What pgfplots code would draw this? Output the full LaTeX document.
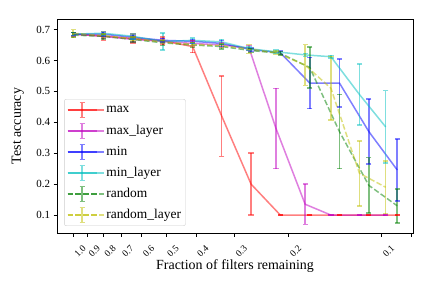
\documentclass[border=0pt]{standalone}
\usepackage{pgfplots}
\pgfplotsset{compat=1.18}
\usepackage{fontspec}
\setmainfont{Liberation Serif}

\definecolor{colR}{rgb}{1,0,0}
\definecolor{colM}{rgb}{0.75,0,0.75}
\definecolor{colB}{rgb}{0,0,1}
\definecolor{colC}{rgb}{0,0.75,0.75}
\definecolor{colG}{rgb}{0,0.5,0}
\definecolor{colY}{rgb}{0.75,0.75,0}

\pgfplotsset{
  ln/.style={color=#1, line width=1.5bp, opacity=0.5, no markers, forget plot},
  er/.style={color=#1, line width=1.5bp, opacity=0.5, solid, forget plot,
    unbounded coords=jump, mark=-, mark size=2.6bp, mark options={solid, line width=1.5bp}},
  lg/.style={color=#1, opacity=0.5, line width=1.5bp},
}

\begin{document}
\begin{tikzpicture}
\begin{axis}[
  at={(57bp,55bp)}, anchor=south west,
  scale only axis, width=356bp, height=214bp,
  xmode=log, x dir=reverse,
  xmin=0.0791, xmax=1.129,
  ymin=0.042, ymax=0.734,
  xtick={1.0,0.9,0.8,0.7,0.6,0.5,0.4,0.3,0.2,0.1},
  xticklabels={1.0,0.9,0.8,0.7,0.6,0.5,0.4,0.3,0.2,0.1},
  extra x ticks={0.08}, extra x tick labels={},
  xminorticks=false, yminorticks=false,
  ytick={0.1,0.2,0.3,0.4,0.5,0.6,0.7},
  yticklabels={0.1,0.2,0.3,0.4,0.5,0.6,0.7},
  tick align=outside, major tick length=3.5bp,
  xtick pos=bottom, ytick pos=left,
  tick style={black, line width=0.8bp},
  axis line style={line width=0.8bp},
  xticklabel style={rotate=45, anchor=north east, font=\fontsize{9.5}{11}\selectfont, xshift=1.5bp, yshift=-11bp, inner sep=1bp},
  yticklabel style={font=\fontsize{11}{13}\selectfont},
  every axis x label/.style={at={(axis description cs:0.5,-0.155)}, anchor=center, font=\fontsize{14}{16}\selectfont},
  every axis y label/.style={at={(axis description cs:-0.11,0.5)}, rotate=90, anchor=center, font=\fontsize{14}{16}\selectfont},
  xlabel={Fraction of filters remaining}, ylabel={Test accuracy},
  legend style={at={(0.02,0.033)}, anchor=south west, draw=black!20, rounded corners=2bp, fill=white, fill opacity=0.8, text opacity=1, draw opacity=1, font=\fontsize{13.5}{15}\selectfont, row sep=4.5bp, inner sep=2.5bp},
  legend cell align=left,
  legend image code/.code={
     \path (0bp,0bp) -- (36bp,0bp);
     \draw[#1] (0bp,0bp) -- (29bp,0bp);
     \draw[#1,solid] (14.5bp,-7.5bp) -- (14.5bp,7.5bp) (12bp,-7.5bp) -- (17bp,-7.5bp) (12bp,7.5bp) -- (17bp,7.5bp);
  },
]
% ---- max
\addplot[ln=colR] coordinates {(1.0,0.685) (0.8,0.679) (0.64,0.671) (0.512,0.663) (0.41,0.645) (0.33,0.42) (0.265,0.20) (0.213,0.10) (0.171,0.10) (0.137,0.10) (0.11,0.10) (0.089,0.10)};
\addplot[er=colR] coordinates {
(1.0,0.679) (1.0,0.691) (1.0,nan)
(0.8,0.665) (0.8,0.693) (0.8,nan)
(0.64,0.657) (0.64,0.685) (0.64,nan)
(0.512,0.651) (0.512,0.675) (0.512,nan)
(0.41,0.625) (0.41,0.665) (0.41,nan)
(0.33,0.29) (0.33,0.55) (0.33,nan)
(0.265,0.10) (0.265,0.30) (0.265,nan)
(0.213,0.10) (0.213,0.10) (0.213,nan)
(0.171,0.10) (0.171,0.10) (0.171,nan)
(0.137,0.10) (0.137,0.10) (0.137,nan)
(0.11,0.10) (0.11,0.10) (0.11,nan)
(0.089,0.10) (0.089,0.10)};
% ---- max_layer
\addplot[ln=colM] coordinates {(1.0,0.685) (0.8,0.678) (0.64,0.668) (0.512,0.662) (0.41,0.655) (0.33,0.650) (0.269,0.640) (0.220,0.38) (0.177,0.135) (0.146,0.10) (0.118,0.10) (0.097,0.10)};
\addplot[er=colM] coordinates {
(1.0,0.679) (1.0,0.691) (1.0,nan)
(0.8,0.672) (0.8,0.684) (0.8,nan)
(0.64,0.660) (0.64,0.676) (0.64,nan)
(0.512,0.654) (0.512,0.670) (0.512,nan)
(0.41,0.647) (0.41,0.663) (0.41,nan)
(0.33,0.642) (0.33,0.658) (0.33,nan)
(0.269,0.632) (0.269,0.648) (0.269,nan)
(0.220,0.25) (0.220,0.51) (0.220,nan)
(0.177,0.07) (0.177,0.20) (0.177,nan)
(0.146,0.10) (0.146,0.10) (0.146,nan)
(0.118,0.10) (0.118,0.10) (0.118,nan)
(0.097,0.10) (0.097,0.10)};
% ---- min
\addplot[ln=colB] coordinates {(1.0,0.685) (0.8,0.685) (0.64,0.675) (0.512,0.665) (0.41,0.662) (0.33,0.655) (0.265,0.635) (0.213,0.625) (0.171,0.527) (0.137,0.527) (0.11,0.37) (0.089,0.246)};
\addplot[er=colB] coordinates {
(1.0,0.679) (1.0,0.691) (1.0,nan)
(0.8,0.679) (0.8,0.691) (0.8,nan)
(0.64,0.669) (0.64,0.681) (0.64,nan)
(0.512,0.659) (0.512,0.671) (0.512,nan)
(0.41,0.656) (0.41,0.668) (0.41,nan)
(0.33,0.645) (0.33,0.665) (0.33,nan)
(0.265,0.629) (0.265,0.641) (0.265,nan)
(0.213,0.620) (0.213,0.630) (0.213,nan)
(0.171,0.444) (0.171,0.610) (0.171,nan)
(0.137,0.450) (0.137,0.604) (0.137,nan)
(0.11,0.265) (0.11,0.475) (0.11,nan)
(0.089,0.146) (0.089,0.346)};
% ---- min_layer
\addplot[ln=colC] coordinates {(1.0,0.685) (0.8,0.688) (0.64,0.678) (0.512,0.661) (0.41,0.665) (0.33,0.660) (0.269,0.638) (0.220,0.628) (0.177,0.618) (0.146,0.612) (0.118,0.49) (0.097,0.385)};
\addplot[er=colC] coordinates {
(1.0,0.680) (1.0,0.690) (1.0,nan)
(0.8,0.683) (0.8,0.693) (0.8,nan)
(0.64,0.670) (0.64,0.686) (0.64,nan)
(0.512,0.634) (0.512,0.688) (0.512,nan)
(0.41,0.657) (0.41,0.673) (0.41,nan)
(0.33,0.652) (0.33,0.668) (0.33,nan)
(0.269,0.632) (0.269,0.644) (0.269,nan)
(0.220,0.623) (0.220,0.633) (0.220,nan)
(0.177,0.613) (0.177,0.623) (0.177,nan)
(0.146,0.608) (0.146,0.616) (0.146,nan)
(0.118,0.392) (0.118,0.588) (0.118,nan)
(0.097,0.268) (0.097,0.502)};
% ---- random
\addplot[ln=colG, dash pattern=on 5.5bp off 2.4bp] coordinates {(1.0,0.682) (0.8,0.678) (0.64,0.668) (0.512,0.657) (0.41,0.650) (0.33,0.645) (0.265,0.632) (0.213,0.623) (0.171,0.577) (0.137,0.37) (0.11,0.196) (0.089,0.13)};
\addplot[er=colG] coordinates {
(1.0,0.674) (1.0,0.690) (1.0,nan)
(0.8,0.670) (0.8,0.686) (0.8,nan)
(0.64,0.660) (0.64,0.676) (0.64,nan)
(0.512,0.649) (0.512,0.665) (0.512,nan)
(0.41,0.642) (0.41,0.658) (0.41,nan)
(0.33,0.637) (0.33,0.653) (0.33,nan)
(0.265,0.626) (0.265,0.638) (0.265,nan)
(0.213,0.617) (0.213,0.629) (0.213,nan)
(0.171,0.511) (0.171,0.643) (0.171,nan)
(0.137,0.25) (0.137,0.49) (0.137,nan)
(0.11,0.106) (0.11,0.286) (0.11,nan)
(0.089,0.075) (0.089,0.185)};
% ---- random_layer
\addplot[ln=colY, dash pattern=on 5.5bp off 2.4bp] coordinates {(1.0,0.688) (0.8,0.680) (0.64,0.670) (0.512,0.660) (0.41,0.652) (0.33,0.648) (0.269,0.637) (0.220,0.625) (0.177,0.585) (0.146,0.51) (0.118,0.235) (0.097,0.19)};
\addplot[er=colY] coordinates {
(1.0,0.676) (1.0,0.700) (1.0,nan)
(0.8,0.674) (0.8,0.686) (0.8,nan)
(0.64,0.664) (0.64,0.676) (0.64,nan)
(0.512,0.654) (0.512,0.666) (0.512,nan)
(0.41,0.646) (0.41,0.658) (0.41,nan)
(0.33,0.642) (0.33,0.654) (0.33,nan)
(0.269,0.623) (0.269,0.651) (0.269,nan)
(0.220,0.620) (0.220,0.630) (0.220,nan)
(0.177,0.519) (0.177,0.651) (0.177,nan)
(0.146,0.407) (0.146,0.613) (0.146,nan)
(0.118,0.130) (0.118,0.340) (0.118,nan)
(0.097,0.105) (0.097,0.275)};
\addlegendimage{lg=colR}\addlegendentry{max}
\addlegendimage{lg=colM}\addlegendentry{max\_layer}
\addlegendimage{lg=colB}\addlegendentry{min}
\addlegendimage{lg=colC}\addlegendentry{min\_layer}
\addlegendimage{lg=colG, dash pattern=on 5.5bp off 2.4bp}\addlegendentry{random}
\addlegendimage{lg=colY, dash pattern=on 5.5bp off 2.4bp}\addlegendentry{random\_layer}
\end{axis}
\pgfresetboundingbox
\path[use as bounding box] (0,0) rectangle (432bp,288bp);
\end{tikzpicture}
\end{document}
